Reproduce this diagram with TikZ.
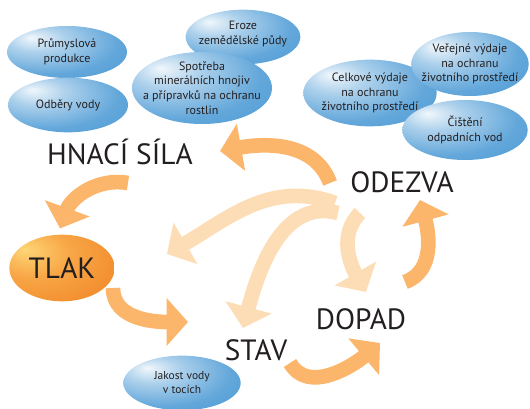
\documentclass[tikz,border=0pt]{standalone}
\usepackage{fontspec}
\setmainfont{PT Sans}
\usetikzlibrary{shapes.geometric,arrows.meta,calc}

\definecolor{elblue}{RGB}{72,152,212}
\definecolor{arrorange}{RGB}{251,182,108}
\definecolor{arrlight}{RGB}{253,221,182}
\definecolor{tlaklight}{RGB}{253,214,118}
\definecolor{tlakmid}{RGB}{248,166,70}
\definecolor{tlakdark}{RGB}{238,124,30}
\definecolor{txtgray}{RGB}{35,31,32}

\pgfdeclareradialshading{bubble}{\pgfpoint{-15bp}{14bp}}{%
  color(0bp)=(white!92!elblue); color(12bp)=(white!55!elblue);
  color(30bp)=(white!15!elblue); color(48bp)=(elblue); color(80bp)=(elblue)}
\pgfdeclareradialshading{tlakshade}{\pgfpoint{-18bp}{14bp}}{%
  color(0bp)=(tlaklight); color(18bp)=(tlakmid);
  color(45bp)=(tlakdark!80!tlakmid); color(80bp)=(tlakdark)}

\begin{document}
\begin{tikzpicture}[x=0.75pt, y=0.75pt,
    every node/.style={text=txtgray},
    bubble/.style={ellipse, shading=bubble, inner sep=0pt},
    bubtext/.style={align=center, font=\fontsize{9}{11}\selectfont, inner sep=0pt},
    phase/.style={font=\fontsize{22}{25}\selectfont, inner sep=1pt},
    bigarrow/.style={draw=arrorange, line width=11pt, -{Triangle[width=35pt, length=16pt]}},
    faintarrow/.style={bigarrow, draw=arrlight}
  ]
  \useasboundingbox (0,0) rectangle (530,-409);

  % phases of the cycle
  \node[phase] (hnaci) at (120,-152) {HNACÍ SÍLA};
  \node[phase] (odezva) at (402,-182) {ODEZVA};
  \node[phase] (dopad) at (361,-319) {DOPAD};
  \node[phase] (stav) at (256,-350) {STAV};
  \node[phase, ellipse, shading=tlakshade, inner sep=0pt, minimum width=79pt, minimum height=50pt] (tlak) at (62,-268) {TLAK};

  % indicators
  \node[bubble, minimum width=90pt, minimum height=39pt] (prumysl) at (67,-52) {};
  \node[bubtext] at (prumysl) {Průmyslová\\produkce};
  \node[bubble, minimum width=90pt, minimum height=41pt] (odbery) at (68,-105) {};
  \node[bubtext] at (odbery) {Odběry vody};
  \node[bubble, minimum width=86pt, minimum height=41pt] (eroze) at (243,-37) {};
  \node[bubtext] at ([yshift=2pt]eroze) {Eroze\\zemědělské půdy};
  \node[bubble, minimum width=105pt, minimum height=54pt] (spotreba) at (202,-88) {};
  \node[bubtext] at (spotreba) {Spotřeba\\minerálních hnojiv\\a přípravků na ochranu\\rostlin};
  \node[bubble, minimum width=100pt, minimum height=50pt] (celkove) at (370,-93) {};
  \node[bubtext] at (celkove) {Celkové výdaje\\na ochranu\\životního prostředí};
  \node[bubble, minimum width=88pt, minimum height=48pt] (verejne) at (470,-64) {};
  \node[bubtext] at (verejne) {Veřejné výdaje\\na ochranu\\životního prostředí};
  \node[bubble, minimum width=94pt, minimum height=45pt] (cisteni) at (465,-130) {};
  \node[bubtext] at (cisteni) {Čištění\\odpadních vod};
  \node[bubble, minimum width=88pt, minimum height=41pt] (jakost) at (182,-383) {};
  \node[bubtext, font=\fontsize{8.6}{10.5}\selectfont] at (jakost) {Jakost vody\\v tocích};

  % feedback from the response
  \draw[faintarrow] ($(odezva)+(-67,-21)$) to[out=160, in=30] ($(tlak)+(105,14)$);
  \draw[faintarrow] ($(odezva)+(-64,-31)$) to[out=165, in=75] ($(stav)+(-13,22)$);
  \draw[faintarrow] ($(odezva)+(-42,-31)$) to[out=225, in=120] ($(dopad)+(5,27)$);

  % main cycle
  \draw[bigarrow] ($(odezva)+(-72,-1)$) to[out=110, in=10] ($(hnaci)+(100,1)$);
  \draw[bigarrow] ($(hnaci)+(8,-31)$) to[out=170, in=70] ($(tlak.north)+(-2,6)$);
  \draw[bigarrow] ($(tlak)+(51,-20)$) to[out=-90, in=180] ($(stav)+(-68,28)$);
  \draw[bigarrow] ($(stav)+(34,-13)$) to[out=-60, in=-140] ($(dopad)+(19,-24)$);
  \draw[bigarrow] ($(dopad)+(44,37)$) to[out=20, in=-75] ($(odezva)+(18,-18)$);
\end{tikzpicture}
\end{document}
